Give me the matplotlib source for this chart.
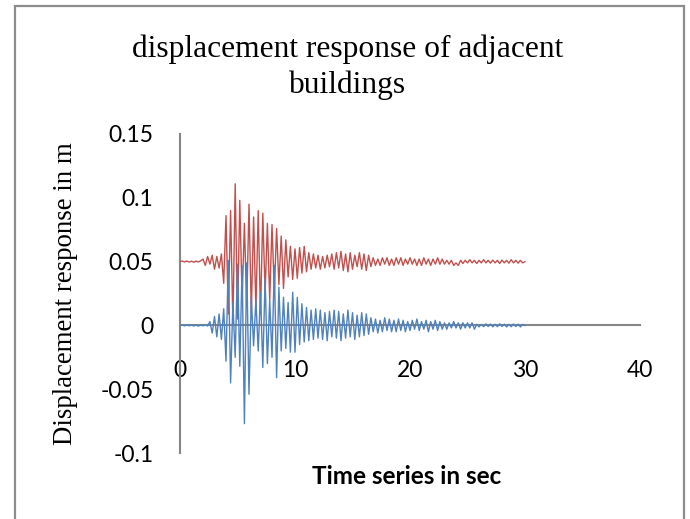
import numpy as np
import matplotlib
matplotlib.use("Agg")
import matplotlib.pyplot as plt
from matplotlib.patches import Rectangle

# ---- data ----
time_step_s = 0.2  # sampling interval of the response records

# Building 1 (red), values in m
red_disp = [
    0.0500, 0.0504, 0.0497, 0.0505, 0.0496, 0.0503, 0.0495, 0.0504, 0.0497, 0.0506,
    0.0520, 0.0470, 0.0540, 0.0480, 0.0550, 0.0440, 0.0540, 0.0450, 0.0560, 0.0330,
    0.0860, 0.0090, 0.0900, 0.0010, 0.1110, 0.0050, 0.0980, 0.0200, 0.0800, 0.0150,
    0.0950, 0.0100, 0.0850, 0.0120, 0.0900, 0.0090, 0.0880, 0.0250, 0.0800, 0.0200,
    0.0790, 0.0260, 0.0760, 0.0320, 0.0700, 0.0290, 0.0670, 0.0380, 0.0620, 0.0360,
    0.0600, 0.0370, 0.0610, 0.0410, 0.0620, 0.0420, 0.0570, 0.0440, 0.0560, 0.0450,
    0.0550, 0.0440, 0.0540, 0.0450, 0.0550, 0.0460, 0.0560, 0.0440, 0.0570, 0.0450,
    0.0580, 0.0430, 0.0560, 0.0420, 0.0570, 0.0440, 0.0550, 0.0460, 0.0570, 0.0440,
    0.0560, 0.0430, 0.0550, 0.0460, 0.0530, 0.0470, 0.0520, 0.0470, 0.0530, 0.0480,
    0.0530, 0.0470, 0.0520, 0.0470, 0.0530, 0.0480, 0.0530, 0.0470, 0.0520, 0.0480,
    0.0530, 0.0480, 0.0520, 0.0470, 0.0520, 0.0470, 0.0530, 0.0480, 0.0520, 0.0470,
    0.0520, 0.0480, 0.0530, 0.0480, 0.0520, 0.0480, 0.0510, 0.0480, 0.0510, 0.0470,
    0.0490, 0.0470, 0.0510, 0.0485, 0.0510, 0.0490, 0.0515, 0.0490, 0.0510, 0.0485,
    0.0510, 0.0490, 0.0515, 0.0490, 0.0510, 0.0488, 0.0512, 0.0490, 0.0510, 0.0485,
    0.0512, 0.0490, 0.0510, 0.0488, 0.0515, 0.0490, 0.0510, 0.0488, 0.0510, 0.0490,
    0.0500,
]

# Building 2 (blue), values in m
blue_disp = [
    0.0000, 0.0003, -0.0004, 0.0005, -0.0003, 0.0004, -0.0005, 0.0003, -0.0006, 0.0005,
    -0.0004, 0.0007, -0.0005, 0.0030, -0.0060, 0.0070, -0.0090, 0.0090, -0.0110, 0.0130,
    -0.0280, 0.0510, -0.0450, 0.0180, -0.0250, 0.0480, -0.0320, 0.0470, -0.0770, 0.0490,
    -0.0540, 0.0220, -0.0160, 0.0200, -0.0200, 0.0260, -0.0330, 0.0370, -0.0300, 0.0200,
    -0.0250, 0.0470, -0.0410, 0.0300, -0.0200, 0.0220, -0.0180, 0.0180, -0.0210, 0.0260,
    -0.0210, 0.0220, -0.0150, 0.0170, -0.0130, 0.0140, -0.0120, 0.0120, -0.0110, 0.0130,
    -0.0100, 0.0120, -0.0110, 0.0100, -0.0120, 0.0110, -0.0090, 0.0120, -0.0100, 0.0110,
    -0.0120, 0.0090, -0.0100, 0.0120, -0.0090, 0.0100, -0.0110, 0.0080, -0.0090, 0.0100,
    -0.0080, 0.0090, -0.0070, 0.0060, -0.0050, 0.0050, -0.0060, 0.0040, -0.0050, 0.0060,
    -0.0040, 0.0050, -0.0050, 0.0040, -0.0050, 0.0050, -0.0040, 0.0040, -0.0050, 0.0030,
    -0.0040, 0.0040, -0.0030, 0.0050, -0.0040, 0.0030, -0.0030, 0.0040, -0.0050, 0.0030,
    -0.0030, 0.0040, -0.0040, 0.0030, -0.0030, 0.0020, -0.0030, 0.0020, -0.0020, 0.0030,
    -0.0020, 0.0020, -0.0030, 0.0020, -0.0020, 0.0020, -0.0020, 0.0020, -0.0030, 0.0010,
    -0.0012, 0.0008, -0.0010, 0.0012, -0.0009, 0.0010, -0.0011, 0.0009, -0.0010, 0.0012,
    -0.0008, 0.0010, -0.0012, 0.0009, -0.0010, 0.0011, -0.0009, 0.0010, -0.0012, 0.0008,
    0.0000,
]

x_ticks = [0, 10, 20, 30, 40]
x_tick_labels = ["0", "10", "20", "30", "40"]
y_ticks = [-0.1, -0.05, 0, 0.05, 0.1, 0.15]
y_tick_labels = ["-0.1", "-0.05", "0", "0.05", "0.1", "0.15"]

title_text = "displacement response of adjacent\nbuildings"
x_label = "Time series in sec"
y_label = "Displacement response in m"

time_s = np.arange(len(red_disp)) * time_step_s

# ---- figure ----
W, H = 690, 519
fig = plt.figure(figsize=(W / 100, H / 100), dpi=100)
fig.patch.set_facecolor("white")

# chart border (Excel chart area)
fig.patches.append(Rectangle((15 / W, -0.1), (684 - 15) / W, 1.1 - 6 / H,
                             transform=fig.transFigure, fill=False,
                             edgecolor="#8c8c8c", linewidth=1.6, zorder=0))

ax_left, ax_right = 180, 640
ax_top, ax_bottom = 134, 453
ax = fig.add_axes([ax_left / W, 1 - ax_bottom / H,
                   (ax_right - ax_left) / W, (ax_bottom - ax_top) / H])
ax.set_facecolor("none")

ax.plot(time_s, red_disp, color="#C0504D", linewidth=1.0, zorder=3)
ax.plot(time_s, blue_disp, color="#4F81BD", linewidth=1.0, zorder=4)

ax.set_xlim(0, 40)
ax.set_ylim(-0.1, 0.15)

for s in ["top", "right"]:
    ax.spines[s].set_visible(False)
ax.spines["bottom"].set_position(("data", 0))
for s in ["left", "bottom"]:
    ax.spines[s].set_color("#868686")
    ax.spines[s].set_linewidth(1.5)
ax.spines["bottom"].set_zorder(2)
ax.spines["left"].set_zorder(2)

tick_font = dict(family="Lato", size=16.5, color="black")
ax.set_xticks(x_ticks)
ax.set_xticklabels(x_tick_labels, fontdict=tick_font)
ax.set_yticks(y_ticks)
ax.set_yticklabels(y_tick_labels, fontdict=tick_font)
ax.tick_params(axis="x", length=0, pad=25)
ax.tick_params(axis="y", length=0, pad=19)

fig.text(348 / W, 1 - 67 / H, title_text, ha="center", va="center",
         family="Liberation Serif", fontsize=22.7, linespacing=1.3)
fig.text(407 / W, 1 - 477 / H, x_label, ha="center", va="center",
         family="Lato", fontweight="bold", fontsize=17.5)
fig.text(66 / W, 1 - 294 / H, y_label, ha="center", va="center",
         rotation=90, family="Liberation Serif", fontsize=19.4)

fig.savefig("out.png", dpi=100, facecolor="white")
